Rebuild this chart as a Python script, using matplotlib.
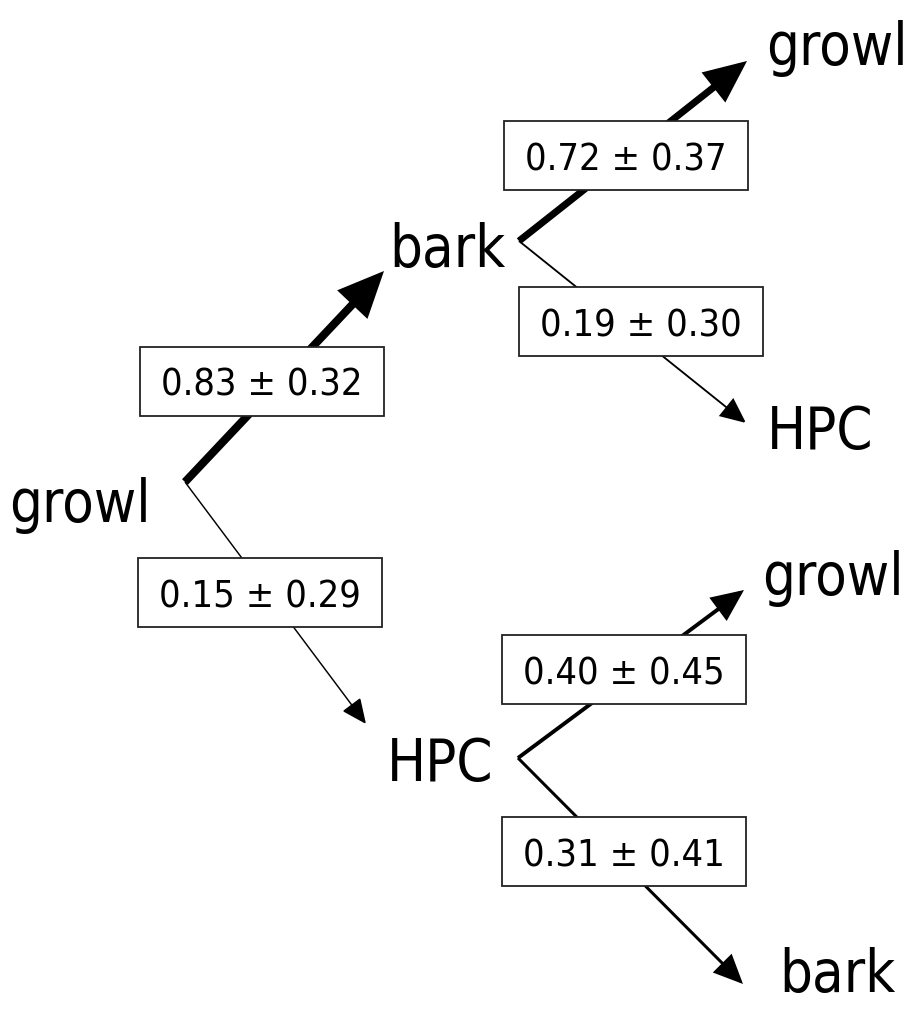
import matplotlib
matplotlib.use('Agg')
import matplotlib.pyplot as plt
from matplotlib.patches import FancyArrowPatch, Rectangle
from matplotlib.font_manager import FontProperties, findfont

# 节点和转移概率 (均值 ± 标准差)
node_labels = ['growl', 'bark', 'HPC', 'growl', 'HPC', 'growl', 'bark']
edge_from = [0, 0, 1, 1, 2, 2]
edge_to = [1, 2, 3, 4, 5, 6]
edge_mean = [0.83, 0.15, 0.72, 0.19, 0.40, 0.31]
edge_sd = [0.32, 0.29, 0.37, 0.30, 0.45, 0.41]

# 布局 (像素坐标, y 向下)
label_xy = [(9, 522), (389, 267), (387, 781), (766, 65), (767, 449), (762, 595), (779, 992)]
out_xy = {0: (185, 483), 1: (519, 242), 2: (518, 759)}
in_xy = {1: (384, 272), 2: (366, 725), 3: (747, 62), 4: (746, 424), 5: (744, 591), 6: (743, 985)}
box_xy = [(261.5, 382), (260, 593.5), (626, 156.5), (640.5, 322.5), (624, 670.5), (624, 852.5)]
box_w, box_h = 244, 69

# 优先用窄体 DejaVu Sans Condensed
cond = 'Condensed' in findfont(FontProperties(family='DejaVu Sans', stretch='condensed'))
stretch = 'condensed' if cond else 'normal'
node_size = 41.5 if cond else 37
box_size = 27.3 if cond else 24.5

fig = plt.figure(figsize=(9.16, 10.12), dpi=100)
ax = fig.add_axes([0, 0, 1, 1])
ax.set_xlim(0, 916)
ax.set_ylim(1012, 0)
ax.axis('off')

for i, j, m, s, (bx, by) in zip(edge_from, edge_to, edge_mean, edge_sd, box_xy):
    # 线宽随概率变化
    lw = 7 * m
    hl = 14 + 1.6 * lw
    arrow = FancyArrowPatch(out_xy[i], in_xy[j],
                            arrowstyle='-|>,head_length=%.1f,head_width=%.1f' % (hl, 0.45 * hl),
                            mutation_scale=1, lw=lw, color='black',
                            shrinkA=0, shrinkB=0, joinstyle='miter', capstyle='butt', zorder=1)
    ax.add_patch(arrow)
    ax.add_patch(Rectangle((bx - box_w / 2, by - box_h / 2), box_w, box_h,
                           fc='white', ec='#222222', lw=1.3, zorder=2))
    ax.text(bx, by + 14, '%.2f \u00b1 %.2f' % (m, s), ha='center', va='baseline',
            fontsize=box_size, family='DejaVu Sans', fontstretch=stretch,
            color='black', zorder=3)

for lab, (x, y) in zip(node_labels, label_xy):
    ax.text(x, y, lab, ha='left', va='baseline', fontsize=node_size,
            family='DejaVu Sans', fontstretch=stretch, color='black')

fig.savefig('out.png', dpi=100, facecolor='white')
